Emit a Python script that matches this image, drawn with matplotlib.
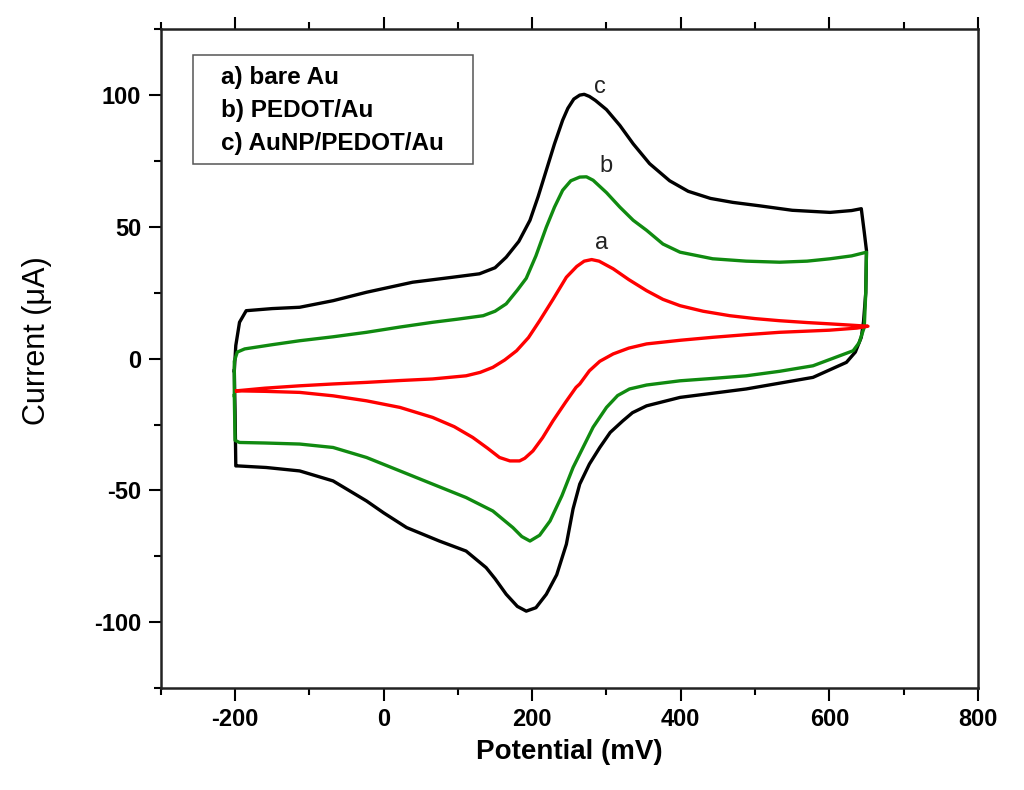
import matplotlib
matplotlib.use("Agg")
import matplotlib.pyplot as plt
from matplotlib.patches import Rectangle
from matplotlib.ticker import MultipleLocator

plt.rcParams['font.family'] = ['Liberation Sans', 'DejaVu Sans']
plt.rcParams['axes.unicode_minus'] = False

# ---- a) bare Au (red)
potential_a = [-198, -160, -113, -68, -23, 22, 66, 111, 130, 147, 163, 179, 195, 210, 228, 246,
               260, 270, 280, 290, 309, 330, 354, 376, 399, 430, 466, 500, 533, 570, 601, 630,
               652, 637, 600, 533, 488, 443, 400, 354, 330, 309, 291, 277, 264, 259, 245, 228,
               214, 201, 190, 183, 170, 156, 140, 120, 95, 66, 22, -23, -68, -113, -160, -198]
current_a = [-12.2, -11.2, -10.3, -9.6, -9.0, -8.3, -7.7, -6.5, -5.2, -3.3, -0.5, 3.0, 8.0, 14.4, 22.5, 30.9,
             35.0, 37.0, 37.6, 37.0, 34.1, 30.0, 25.8, 22.5, 20.1, 18.0, 16.3, 15.2, 14.4, 13.7, 13.2, 12.7,
             12.3, 11.6, 10.8, 10.0, 9.1, 8.1, 7.0, 5.6, 4.0, 1.8, -1.0, -4.6, -9.6, -10.9, -16.5, -23.6,
             -30.0, -35.0, -37.8, -38.8, -38.8, -37.5, -34.0, -29.9, -25.8, -22.3, -18.5, -16.0, -14.1, -12.8, -12.4, -12.2]

# ---- b) PEDOT/Au (green)
potential_b = [-201, -201, -197, -187, -150, -113, -68, -23, 22, 66, 100, 134, 150, 165, 180, 192,
               205, 219, 230, 241, 252, 264, 273, 282, 300, 318, 336, 354, 376, 399, 443, 488, 533,
               570, 601, 630, 650, 649, 647, 640, 632, 578, 533, 488, 443, 399, 354, 331, 315,
               300, 282, 264, 255, 240, 224, 210, 197, 186, 174, 147, 111, 66, 22, -23, -68,
               -113, -160, -194, -200, -201]
current_b = [-14.0, -1.0, 2.5, 3.7, 5.3, 6.8, 8.3, 10.0, 12.0, 13.8, 15.0, 16.3, 18.0, 20.8, 26.0, 30.5,
             39.0, 49.9, 57.5, 63.9, 67.5, 68.9, 69.0, 67.7, 63.0, 57.5, 52.5, 48.7, 43.5, 40.4, 37.9, 37.0, 36.6,
             37.0, 37.9, 39.0, 40.4, 25.0, 11.9, 6.0, 3.0, -2.7, -4.8, -6.5, -7.5, -8.4, -10.0, -11.5, -14.0,
             -18.5, -26.0, -36.2, -41.3, -52.0, -61.6, -67.0, -69.2, -67.5, -64.1, -57.8, -52.7, -47.6, -42.6, -37.5, -33.7,
             -32.4, -32.0, -31.8, -31.0, -14.0]

# ---- c) AuNP/PEDOT/Au (black)
potential_c = [-201, -199, -194, -185, -150, -113, -68, -23, 39, 93, 129, 150, 165, 182, 197, 208, 219,
               230, 241, 248, 256, 264, 270, 277, 285, 300, 318, 336, 358, 385, 410, 440, 470, 506, 550, 601, 630,
               643, 647, 650, 649, 646, 643, 635, 623, 578, 488, 399, 354, 335, 322, 305, 291,
               277, 264, 255, 246, 233, 219, 205, 192, 180, 165, 150, 138, 111, 75, 31, 0,
               -23, -68, -113, -158, -196, -199, -200, -201]
current_c = [-4.6, 5.0, 13.8, 18.2, 19.0, 19.5, 22.0, 25.2, 29.0, 30.9, 32.2, 34.5, 38.5, 44.5, 52.5, 61.5, 71.5,
             81.5, 90.5, 95.0, 98.5, 100.0, 100.3, 99.5, 98.0, 94.5, 88.5, 81.5, 74.0, 67.5, 63.5, 60.8, 59.3, 58.0, 56.3, 55.5, 56.2,
             56.9, 48.0, 41.0, 25.0, 14.0, 8.1, 2.5, -1.4, -7.1, -11.5, -14.7, -17.9, -20.5, -23.6, -28.0, -33.7,
             -40.0, -47.6, -57.0, -70.4, -82.0, -89.4, -94.5, -95.8, -94.0, -89.4, -83.5, -79.3, -73.0, -69.2, -64.1, -58.5,
             -54.0, -46.4, -42.6, -41.3, -40.7, -40.7, -20.0, -4.6]

legend_lines = ['a) bare Au', 'b) PEDOT/Au', 'c) AuNP/PEDOT/Au']
curve_tags = ['a', 'b', 'c']
tag_x = [293, 299, 291]
tag_y = [44, 73, 103]

fig = plt.figure(figsize=(10.24, 7.9), dpi=100)
ax = fig.add_axes([0.157, 0.129, 0.798, 0.834])

ax.plot(potential_c, current_c, color='black', lw=2.4, solid_joinstyle='round')
ax.plot(potential_b, current_b, color='#108a10', lw=2.4, solid_joinstyle='round')
ax.plot(potential_a, current_a, color='#ff0000', lw=2.4, solid_joinstyle='round')

for t, x, y in zip(curve_tags, tag_x, tag_y):
    ax.text(x, y, t, fontsize=17, ha='center', va='center', color='#222222')

# legend drawn as a plain box with text
ax.add_patch(Rectangle((0.039, 0.795), 0.343, 0.166, transform=ax.transAxes,
                       fill=False, edgecolor='#555555', lw=1.1))
for i, s in enumerate(legend_lines):
    ax.text(0.074, 0.926 - i * 0.0495, s, transform=ax.transAxes, fontsize=17.5,
            fontweight='bold', va='center', ha='left')

ax.set_xlim(-300, 800)
ax.set_ylim(-125, 125)
ax.xaxis.set_major_locator(MultipleLocator(200))
ax.xaxis.set_minor_locator(MultipleLocator(100))
ax.yaxis.set_major_locator(MultipleLocator(50))
ax.yaxis.set_minor_locator(MultipleLocator(25))
ax.tick_params(which='both', direction='out', top=True, right=False, labeltop=False, width=1.5)
ax.tick_params(which='major', length=9, pad=5, labelsize=17)
ax.tick_params(which='minor', length=5)
for lab in ax.get_xticklabels() + ax.get_yticklabels():
    lab.set_fontweight('bold')
for sp in ax.spines.values():
    sp.set_linewidth(1.8)
    sp.set_color('#222222')

ax.set_xlabel('Potential (mV)', fontsize=20, fontweight='bold', labelpad=6)
ax.set_ylabel('Current (\u03bcA)', fontsize=22)
ax.yaxis.set_label_coords(-0.133, 0.528)

fig.savefig('out.png', dpi=100)
